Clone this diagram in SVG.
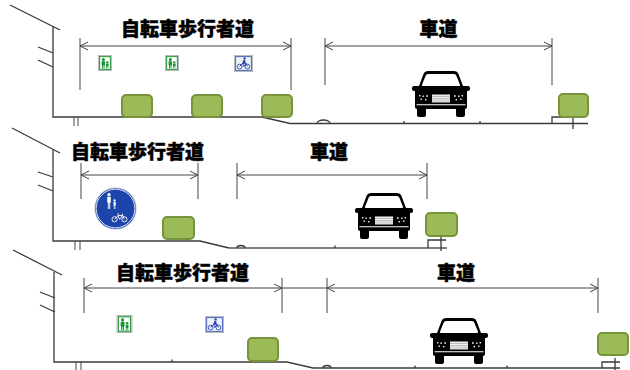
<svg xmlns="http://www.w3.org/2000/svg" xmlns:xlink="http://www.w3.org/1999/xlink" width="630" height="370" viewBox="0 0 630 370">
  <style>
    .line { fill: none; stroke: #3a3a3a; stroke-width: 1.3; }
    .road { fill: none; stroke: #555; stroke-width: 1.6; }
    .pipe { fill: none; stroke: #444; stroke-width: 1; }
    .dim { fill: none; stroke: #444; stroke-width: 1; }
    .arrow { fill: none; stroke: #444; stroke-width: 1; marker-start: url(#chev); marker-end: url(#chev); }
    .hedge { fill: #9BBB59; stroke: #77933C; stroke-width: 2; }
    .label { font-family: "Noto Sans CJK JP", "Noto Sans CJK SC", sans-serif; font-size: 19px; font-weight: 900; fill: #000; stroke: #000; stroke-width: 0.45; text-anchor: middle; }
  </style>
  <defs>
    <marker id="chev" viewBox="-10 -5 11 10" markerWidth="11" markerHeight="10" refX="0" refY="0" orient="auto-start-reverse" markerUnits="userSpaceOnUse">
      <path d="M-8,-4 L0,0 L-8,4" fill="none" stroke="#444" stroke-width="1"/>
    </marker>
    <!-- front view of a car -->
    <symbol id="car" viewBox="0 0 58 46">
      <path fill="#000" d="M11.5,3 Q12.5,0 16.5,0 H41.5 Q45.5,0 46.5,3 L51,15 H56 Q58,15 58,17 V18 Q58,20 56,20 H55 V36 Q55,38 53,38 H5 Q3,38 3,36 V20 H2 Q0,20 0,18 V17 Q0,15 2,15 H7 Z"/>
      <path fill="#fff" d="M16,3 H42 Q43.8,3 44.5,5 L48,13.8 Q48.4,15 47.2,15 H10.8 Q9.6,15 10,13.8 L13.5,5 Q14.2,3 16,3 Z"/>
      <rect x="20" y="23.5" width="18" height="7.5" fill="#bbb"/>
      <g stroke="#fff" stroke-width="0.9">
        <line x1="20" y1="24.3" x2="38" y2="24.3"/>
        <line x1="20" y1="26.6" x2="38" y2="26.6"/>
        <line x1="20" y1="28.9" x2="38" y2="28.9"/>
        <line x1="20" y1="31" x2="38" y2="31"/>
        <line x1="4.5" y1="33.8" x2="53.5" y2="33.8" stroke-width="1.1"/>
      </g>
      <g fill="#fff">
        <rect x="7" y="24" width="1.4" height="1.4"/>
        <rect x="10.5" y="24.5" width="1.4" height="1.4"/>
        <rect x="14.5" y="24" width="1.2" height="2"/>
        <rect x="8.5" y="27.5" width="1.4" height="1.4"/>
        <rect x="13" y="28" width="1.4" height="1.4"/>
        <rect x="42.3" y="24" width="1.2" height="2"/>
        <rect x="46.1" y="24.5" width="1.4" height="1.4"/>
        <rect x="49.6" y="24" width="1.4" height="1.4"/>
        <rect x="43.6" y="28" width="1.4" height="1.4"/>
        <rect x="48.1" y="27.5" width="1.4" height="1.4"/>
      </g>
      <path fill="#000" d="M5,37 H14 V44 Q14,46 12,46 H7 Q5,46 5,44 Z M44,37 H53 V44 Q53,46 51,46 H46 Q44,46 44,44 Z"/>
    </symbol>
    <!-- pedestrian sign (adult and child) -->
    <symbol id="ped" viewBox="0 0 14 16">
      <rect x="0.4" y="0.4" width="13.2" height="15.2" fill="#fff" stroke="#aaa" stroke-width="0.8"/>
      <rect x="1.6" y="1.6" width="10.8" height="12.8" fill="#fff" stroke="#2f9e44" stroke-width="1.1"/>
      <g fill="#1a9232">
        <circle cx="5.3" cy="4.4" r="1.5"/>
        <path d="M3.6,6.2 H7 V10 H6.6 V13.6 H5.6 V10.6 H5 V13.6 H4 V10 H3.6 Z"/>
        <circle cx="9.3" cy="7.4" r="1.2"/>
        <path d="M8,8.8 H10.6 V11 H10.3 V13.6 H9.6 V11.6 H9 V13.6 H8.3 V11 H8 Z"/>
      </g>
    </symbol>
    <!-- bicycle sign -->
    <symbol id="bike" viewBox="0 0 19 17">
      <rect x="0.4" y="0.4" width="18.2" height="16.2" fill="#fff" stroke="#aaa" stroke-width="0.8"/>
      <rect x="1.6" y="1.6" width="15.8" height="13.8" fill="#eef2fb" stroke="#4a66b8" stroke-width="1"/>
      <g fill="none" stroke="#2a45b0" stroke-width="0.9">
        <circle cx="5.6" cy="11.6" r="2.4"/>
        <circle cx="13.4" cy="11.6" r="2.4"/>
        <path d="M5.6,11.6 L8.6,8.2 H12 L13.4,11.6 M8.6,8.2 L9.8,11.6 L12,8.2"/>
      </g>
      <g fill="#2a45b0">
        <circle cx="10.6" cy="3.4" r="1.2"/>
        <path d="M9.4,5 L11.2,5 L11.6,8 L12.6,9.8 L11.8,10.2 L10.6,8.6 L9,8.8 L8.4,7.8 Z"/>
      </g>
    </symbol>
  </defs>

  <!-- upper section -->
  <g id="section-1">
    <path class="line" d="M10,5 L60,30"/>
    <path class="line" d="M38,47 L53,53 M38,60 L53,67"/>
    <path class="line" d="M53,27 V117 H262 L290,123.5 H588"/>
    <path class="line" d="M317,123.5 A6.5,3.5 0 0 1 330,123.5"/>
    <path class="line" d="M404,121 V123.5 M480,121 V123.5"/>
    <path class="line" d="M552,123.5 V117 H565 M573,117 V129"/>
    <path class="pipe" d="M74,117 V126 M78,117 V126"/>
  </g>
  <g id="walkway-label-1"><text class="label" x="187.5" y="36">自転車歩行者道</text></g>
  <g id="roadway-label-1"><text class="label" x="438.5" y="36">車道</text></g>
  <g id="sign-ped-1a"><use href="#ped" x="98" y="55" width="14" height="16"/></g>
  <g id="sign-ped-1b"><use href="#ped" x="165" y="55" width="14" height="16"/></g>
  <g id="sign-bike-1"><use href="#bike" x="234" y="55" width="19" height="17"/></g>
  <g id="hedge-1a"><rect class="hedge" x="122" y="95" width="30" height="22" rx="4"/></g>
  <g id="hedge-1b"><rect class="hedge" x="192" y="95" width="30" height="22" rx="4"/></g>
  <g id="hedge-1c"><rect class="hedge" x="262" y="95" width="30" height="22" rx="4"/></g>
  <g id="hedge-1d"><rect class="hedge" x="559" y="94" width="29" height="23" rx="4"/></g>
  <g id="car-1"><use href="#car" x="412" y="71" width="58" height="46"/></g>

  <!-- middle section -->
  <g id="section-2">
    <path class="line" d="M12,128 L60,153"/>
    <path class="line" d="M38,172 L53,177 M38,185 L53,191"/>
    <path class="line" d="M53,150 V241 H200 L229,248"/>
    <path class="road" d="M229,248 H447" stroke="#777" stroke-width="2"/>
    <path class="line" d="M237,248 A4,2.5 0 0 1 245,248"/>
    <path class="line" d="M335,245.5 V248"/>
    <path class="line" d="M428,248 V240 H446 M441,236 V251"/>
    <path class="pipe" d="M75,241 V250 M80,241 V250"/>
  </g>
  <g id="walkway-label-2"><text class="label" x="137.5" y="158.5">自転車歩行者道</text></g>
  <g id="roadway-label-2"><text class="label" x="329" y="158.5">車道</text></g>
  <g id="sign-shared-2">
    <circle cx="115.5" cy="208.5" r="20.5" fill="#1b45a8" stroke="#8aa0d0" stroke-width="0.8"/>
    <circle cx="115.5" cy="208.5" r="19.3" fill="none" stroke="#fff" stroke-width="0.8"/>
    <g fill="#fff">
      <circle cx="109" cy="194.6" r="1.7"/>
      <path d="M107.2,196.8 H110.8 V202.5 H110.2 V209 H109.3 V203.2 H108.7 V209 H107.8 V202.5 H107.2 Z"/>
      <circle cx="114.6" cy="200.4" r="1.2"/>
      <path d="M113.4,202 H115.8 V205.3 H115.4 V209 H114.8 V206 H114.4 V209 H113.8 V205.3 H113.4 Z"/>
    </g>
    <g fill="none" stroke="#fff" stroke-width="0.9">
      <circle cx="114.6" cy="219.3" r="2.6"/>
      <circle cx="124.4" cy="219.3" r="2.6"/>
      <path d="M114.6,219.3 L118,215.5 H122.5 L124.4,219.3 M118,215.5 L119.5,219.3 L122.5,215.5 M117.2,214 H119 M122.3,213.5 L122.8,215.5"/>
    </g>
  </g>
  <g id="hedge-2a"><rect class="hedge" x="163" y="217" width="31" height="22" rx="4"/></g>
  <g id="hedge-2b"><rect class="hedge" x="426" y="213" width="31" height="23" rx="4"/></g>
  <g id="car-2"><use href="#car" x="355" y="193" width="58" height="46"/></g>

  <!-- lower section -->
  <g id="section-3">
    <path class="line" d="M13,250 L62,275"/>
    <path class="line" d="M40,292 L55,298 M40,305 L55,312"/>
    <path class="line" d="M54,272 V362 H287 L313,368 H620"/>
    <path class="line" d="M323,368 A4,2.5 0 0 1 331,368"/>
    <path class="line" d="M172,359.5 V362 M415,365.5 V368 M507,365.5 V368"/>
    <path class="line" d="M602,368 V362 H620 M615,358 V370"/>
    <path class="pipe" d="M76,362 V370 M81,362 V370"/>
  </g>
  <g id="walkway-label-3"><text class="label" x="182.5" y="279.5">自転車歩行者道</text></g>
  <g id="roadway-label-3"><text class="label" x="456" y="279.5">車道</text></g>
  <g id="sign-ped-3"><use href="#ped" x="116" y="315" width="17" height="18"/></g>
  <g id="sign-bike-3"><use href="#bike" x="205" y="316" width="19" height="17"/></g>
  <g id="hedge-3a"><rect class="hedge" x="248" y="338" width="30" height="23" rx="4"/></g>
  <g id="hedge-3b"><rect class="hedge" x="598" y="333" width="30" height="22" rx="4"/></g>
  <g id="car-3"><use href="#car" x="430" y="318" width="58" height="46"/></g>

  <!-- width dimension lines -->
  <g id="connectors">
    <path class="dim" d="M80,38 V90 M291,38 V90 M325,38 V85 M552,38 V85"/>
    <path class="arrow" d="M80,46 H291"/>
    <path class="arrow" d="M325,46 H552"/>
    <path class="dim" d="M81,163 V199 M198,163 V199 M237,163 V199 M427,163 V199"/>
    <path class="arrow" d="M81,175 H198"/>
    <path class="arrow" d="M237,175 H427"/>
    <path class="dim" d="M84,278 V313 M282,278 V313 M327,278 V313 M598,278 V313"/>
    <path class="arrow" d="M84,288 H282"/>
    <path class="dim" d="M282,288 H327"/>
    <path class="arrow" d="M327,288 H598"/>
  </g>
</svg>
